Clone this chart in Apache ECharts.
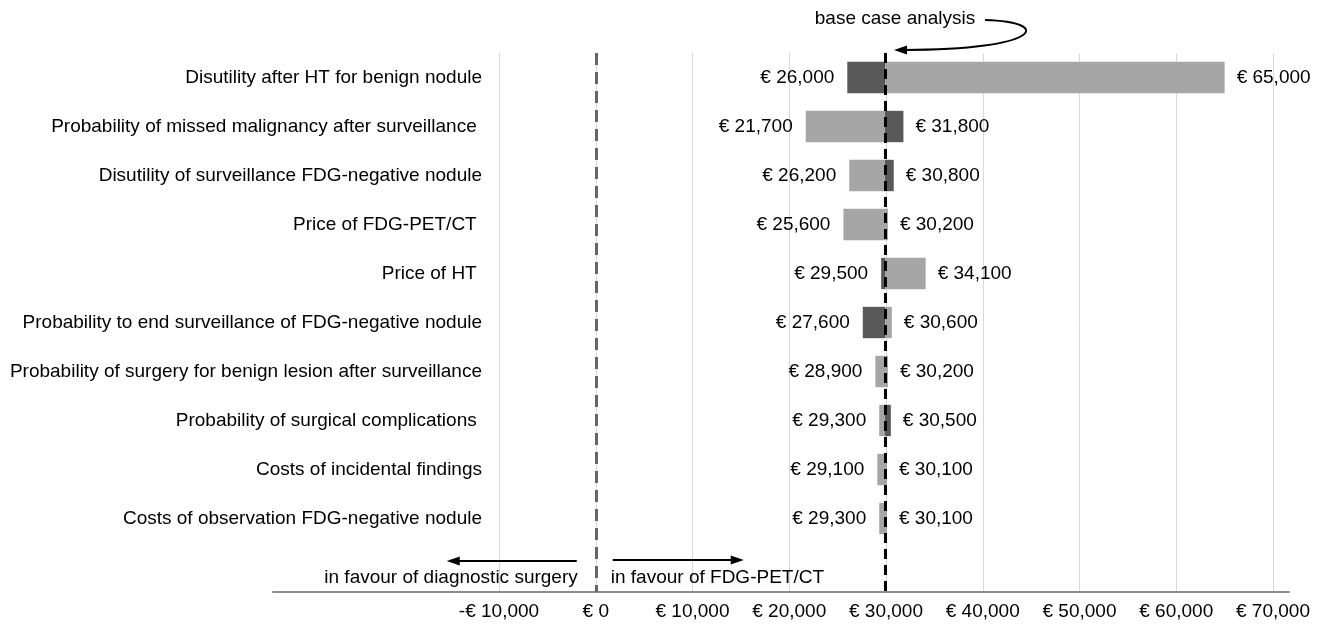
<!DOCTYPE html>
<html>
<head>
<meta charset="utf-8">
<script src="https://cdn.jsdelivr.net/npm/echarts@6/dist/echarts.min.js"></script>
<style>
html,body{margin:0;padding:0;background:#fff;}
#chart{width:1321px;height:624px;}
</style>
</head>
<body>
<div id="chart"></div>
<script>
// ---- data ----
const categories = [
  'Disutility after HT for benign nodule',
  'Probability of missed malignancy after surveillance ',
  'Disutility of surveillance FDG-negative nodule',
  'Price of FDG-PET/CT ',
  'Price of HT ',
  'Probability to end surveillance of FDG-negative nodule',
  'Probability of surgery for benign lesion after surveillance',
  'Probability of surgical complications ',
  'Costs of incidental findings',
  'Costs of observation FDG-negative nodule',
  ''
];
const lowValues  = [26000, 21700, 26200, 25600, 29500, 27600, 28900, 29300, 29100, 29300];
const highValues = [65000, 31800, 30800, 30200, 34100, 30600, 30200, 30500, 30100, 30100];
const lowIsDark  = [1, 0, 0, 0, 1, 1, 0, 0, 0, 0];
const highIsDark = [0, 1, 1, 0, 0, 0, 0, 1, 0, 0];
const baseValue = 29900;
const zeroValue = 0;
const axisMin = -10000, axisMax = 70000, axisStep = 10000;

const DARK = '#595959', LIGHT = '#a6a6a6';
const FAMILY = '"Liberation Sans", Arial, sans-serif';
const FONT = '19px ' + FAMILY;

function euro(v) {
  const a = Math.abs(v).toLocaleString('en-US');
  return (v < 0 ? '-€ ' : '€ ') + a;
}

const rows = lowValues.map((lo, i) => [i, lo, highValues[i], lowIsDark[i], highIsDark[i]]);

function renderItem(params, api) {
  const idx = api.value(0);
  const lo = api.value(1), hi = api.value(2);
  const yc = api.coord([baseValue, idx])[1];
  const xb = api.coord([baseValue, idx])[0];
  const xl = api.coord([lo, idx])[0];
  const xh = api.coord([hi, idx])[0];
  const h = api.size([0, 1])[1] * 0.64;
  const children = [
    {type: 'rect', shape: {x: xl, y: yc - h / 2, width: xb - xl, height: h},
     style: {fill: api.value(3) ? DARK : LIGHT}},
    {type: 'rect', shape: {x: xb, y: yc - h / 2, width: xh - xb, height: h},
     style: {fill: api.value(4) ? DARK : LIGHT}},
    {type: 'text', style: {text: euro(lo), x: xl - 13, y: yc, align: 'right', verticalAlign: 'middle', font: FONT, fill: '#000'}},
    {type: 'text', style: {text: euro(hi), x: xh + 12, y: yc, align: 'left', verticalAlign: 'middle', font: FONT, fill: '#000'}}
  ];
  return {type: 'group', children: children};
}

const chart = echarts.init(document.getElementById('chart'), null, {renderer: 'canvas'});
chart.setOption({
  animation: false,
  backgroundColor: '#fff',
  grid: [
    {left: 499, right: 48, top: 53, bottom: 32},
    {left: 273, right: 32, top: 53, bottom: 32}
  ],
  xAxis: [
    {
      type: 'value', gridIndex: 0, min: axisMin, max: axisMax, interval: axisStep,
      axisLine: {show: false}, axisTick: {show: false},
      splitLine: {show: true, lineStyle: {color: '#d9d9d9', width: 1}},
      axisLabel: {formatter: euro, color: '#000', fontSize: 19, fontFamily: FAMILY, margin: 10}
    },
    {
      type: 'value', gridIndex: 1, min: 0, max: 1,
      axisLine: {show: true, lineStyle: {color: '#8c8c8c', width: 2}},
      axisTick: {show: false}, axisLabel: {show: false}, splitLine: {show: false}
    }
  ],
  yAxis: [
    {
      type: 'category', gridIndex: 0, data: categories, inverse: true,
      axisLine: {show: false}, axisTick: {show: false}, splitLine: {show: false},
      axisLabel: {color: '#000', fontSize: 19, fontFamily: FAMILY, margin: 17}
    },
    {type: 'value', gridIndex: 1, show: false}
  ],
  series: [
    {
      type: 'custom', xAxisIndex: 0, yAxisIndex: 0,
      renderItem: renderItem,
      encode: {x: [1, 2], y: 0},
      data: rows,
      z: 3
    },
    {
      type: 'scatter', xAxisIndex: 0, yAxisIndex: 0,
      data: [[baseValue, 0]], symbolSize: 0, silent: true, z: 5,
      markLine: {
        silent: true, symbol: ['none', 'none'], label: {show: false},
        data: [
          {xAxis: zeroValue, lineStyle: {color: '#666666', width: 3, type: [12, 7]}},
          {xAxis: baseValue, lineStyle: {color: '#000000', width: 3, type: [10, 6]}}
        ]
      }
    }
  ]
});

// annotations positioned from the axis scale
const x0 = chart.convertToPixel({xAxisIndex: 0}, zeroValue);
const xb = chart.convertToPixel({xAxisIndex: 0}, baseValue);
const lineStyle = {stroke: '#000', lineWidth: 2};
chart.setOption({
  graphic: [
    {type: 'text', style: {text: 'base case analysis', x: xb + 10, y: 19, align: 'center', verticalAlign: 'middle', font: FONT, fill: '#000'}},
    {type: 'bezierCurve', shape: {x1: xb + 100, y1: 20, cpx1: xb + 170, cpy1: 22, cpx2: xb + 155, cpy2: 50, x2: xb + 20, y2: 50},
     style: {stroke: '#000', lineWidth: 2, fill: null}},
    {type: 'polygon', shape: {points: [[xb + 9, 50], [xb + 22, 45.5], [xb + 22, 54.5]]}, style: {fill: '#000'}},

    {type: 'line', shape: {x1: x0 - 19, y1: 561, x2: x0 - 138, y2: 561}, style: lineStyle},
    {type: 'polygon', shape: {points: [[x0 - 149, 561], [x0 - 136, 556.5], [x0 - 136, 565.5]]}, style: {fill: '#000'}},
    {type: 'text', style: {text: 'in favour of diagnostic surgery', x: x0 - 18, y: 578, align: 'right', verticalAlign: 'middle', font: FONT, fill: '#000'}},

    {type: 'line', shape: {x1: x0 + 17, y1: 560, x2: x0 + 136, y2: 560}, style: lineStyle},
    {type: 'polygon', shape: {points: [[x0 + 148, 560], [x0 + 135, 555.5], [x0 + 135, 564.5]]}, style: {fill: '#000'}},
    {type: 'text', style: {text: 'in favour of FDG-PET/CT', x: x0 + 15, y: 578, align: 'left', verticalAlign: 'middle', font: FONT, fill: '#000'}}
  ]
});
</script>
</body>
</html>
